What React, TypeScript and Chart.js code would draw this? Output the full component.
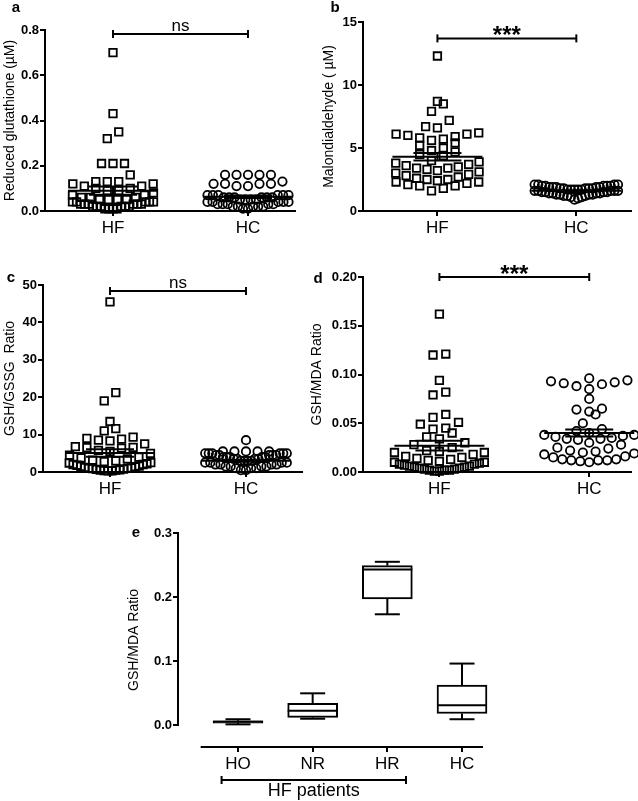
import React, { useEffect, useRef } from "react";
import { Chart, registerables } from "chart.js";
Chart.register(...registerables);

const FONT = "'Liberation Sans', Arial, Helvetica, sans-serif";

// ---------- shared ----------
const groupLabels = ["HF", "HC"];

// ---------- panel a : Reduced glutathione ----------
const gshHF = [0.70, 0.43, 0.35, 0.32, 0.21, 0.21, 0.21, 0.16, 0.13, 0.13, 0.13, 0.12, 0.12, 0.11, 0.11, 0.10, 0.10, 0.09, 0.09, 0.08, 0.07, 0.07, 0.06, 0.06, 0.06, 0.05, 0.05, 0.05, 0.05, 0.04, 0.04, 0.04, 0.04, 0.04, 0.03, 0.03, 0.03, 0.03, 0.03, 0.03, 0.02, 0.02, 0.02, 0.02, 0.02, 0.02, 0.01, 0.01, 0.01, 0.01];
const gshHC = [0.16, 0.16, 0.16, 0.16, 0.16, 0.13, 0.12, 0.12, 0.12, 0.12, 0.11, 0.11, 0.07, 0.07, 0.07, 0.07, 0.07, 0.07, 0.06, 0.06, 0.06, 0.06, 0.06, 0.06, 0.05, 0.05, 0.05, 0.05, 0.04, 0.04, 0.04, 0.04, 0.04, 0.03, 0.03, 0.03, 0.03, 0.03, 0.02, 0.02, 0.02, 0.02, 0.02, 0.01, 0.01];
const gshMean = [0.09, 0.063];
const gshSem = [0.018, 0.006];
const gshTicks = [0, 0.2, 0.4, 0.6, 0.8];

// ---------- panel b : Malondialdehyde ----------
const mdaHF = [12.3, 8.7, 8.5, 7.9, 7.2, 6.7, 6.6, 6.2, 6.1, 6.1, 6.0, 5.9, 5.8, 5.7, 5.6, 5.4, 5.2, 5.0, 4.8, 4.7, 4.5, 4.4, 4.0, 3.9, 3.8, 3.7, 3.6, 3.5, 3.4, 3.4, 3.3, 3.2, 3.1, 3.0, 2.9, 2.8, 2.7, 2.6, 2.5, 2.5, 2.4, 2.3, 2.3, 2.2, 2.1, 2.0, 2.0, 1.8, 1.6];
const mdaHC = [2.1, 2.1, 2.1, 2.1, 2.0, 2.0, 2.0, 2.0, 2.0, 1.9, 1.9, 1.9, 1.9, 1.9, 1.8, 1.8, 1.8, 1.8, 1.8, 1.7, 1.7, 1.7, 1.7, 1.7, 1.6, 1.6, 1.6, 1.6, 1.6, 1.5, 1.5, 1.5, 1.5, 1.4, 1.4, 1.4, 1.4, 1.3, 1.3, 1.3, 1.3, 1.2, 1.2, 1.2, 1.1, 1.1, 1.0, 0.9];
const mdaMean = [4.3, 1.6];
const mdaSem = [0.3, 0.05];
const mdaTicks = [0, 5, 10, 15];

// ---------- panel c : GSH/GSSG ratio ----------
const ratioHF = [45.5, 21.2, 19.0, 13.5, 11.6, 11.0, 9.3, 9.0, 8.8, 8.5, 8.3, 7.5, 6.8, 6.6, 6.5, 6.4, 5.8, 5.5, 5.0, 4.5, 4.0, 3.8, 3.5, 3.2, 3.0, 2.8, 2.5, 2.4, 2.2, 2.0, 2.0, 1.8, 1.6, 1.5, 1.4, 1.2, 1.1, 1.0, 1.0, 0.9, 0.8, 0.7, 0.6, 0.5, 0.5, 0.4, 0.3, 0.3];
const ratioHC = [8.5, 5.5, 5.5, 5.5, 5.5, 5.5, 5.0, 5.0, 5.0, 5.0, 5.0, 5.0, 4.5, 4.5, 4.5, 4.5, 4.5, 4.0, 4.0, 4.0, 4.0, 4.0, 3.5, 3.5, 3.5, 3.5, 3.0, 3.0, 3.0, 3.0, 2.5, 2.5, 2.5, 2.5, 2.0, 2.0, 2.0, 2.0, 1.5, 1.5, 1.5, 1.5, 1.0, 1.0, 1.0, 0.5, 0.5];
const ratioMean = [5.1, 3.0];
const ratioSem = [1.0, 0.25];
const ratioTicks = [0, 10, 20, 30, 40, 50];

// ---------- panel d : GSH/MDA ratio ----------
const gmHF = [0.162, 0.121, 0.120, 0.094, 0.082, 0.079, 0.059, 0.056, 0.051, 0.049, 0.045, 0.044, 0.040, 0.036, 0.034, 0.030, 0.028, 0.025, 0.022, 0.021, 0.020, 0.020, 0.018, 0.016, 0.015, 0.014, 0.013, 0.012, 0.011, 0.010, 0.010, 0.009, 0.008, 0.008, 0.007, 0.006, 0.006, 0.005, 0.005, 0.004, 0.004, 0.003, 0.003, 0.002, 0.002, 0.002, 0.001, 0.001];
const gmHC = [0.096, 0.094, 0.093, 0.092, 0.091, 0.090, 0.088, 0.085, 0.075, 0.065, 0.064, 0.062, 0.059, 0.050, 0.044, 0.042, 0.040, 0.038, 0.038, 0.037, 0.036, 0.035, 0.034, 0.034, 0.033, 0.030, 0.028, 0.025, 0.024, 0.022, 0.021, 0.020, 0.019, 0.018, 0.016, 0.015, 0.013, 0.013, 0.012, 0.012, 0.012, 0.011, 0.010];
const gmMean = [0.027, 0.040];
const gmSem = [0.005, 0.0035];
const gmTicks = [0, 0.05, 0.1, 0.15, 0.2];

// ---------- significance ----------
const sigLabels = ["ns", "***", "ns", "***"];
const sigLevels = [0.782, 13.7, 48.4, 0.2];

// ---------- panel e : box plot ----------
const boxCats = ["HO", "NR", "HR", "HC"];
const boxMin = [0.001, 0.0098, 0.173, 0.009];
const boxQ1 = [0.003, 0.012, 0.197, 0.018];
const boxMedian = [0.005, 0.0224, 0.243, 0.031];
const boxQ3 = [0.0065, 0.034, 0.249, 0.0625];
const boxMax = [0.009, 0.0495, 0.255, 0.096];
const boxTicks = [0, 0.1, 0.2, 0.3];
const spanLabel = "HF patients";
const spanRange = [-0.22, 2.25];

// ---------- style constants ----------
const MARKER_PX = 9;
const STEP = 0.085;
const MAX_HALF = 0.3;
const MEAN_HALF = 45;
const SEM_HALF = 24;
const TITLE_OFFSET = 9.4;

type ScatterSpec = {
  letter: string; letterX: number; letterY: number;
  left: number; top: number; width: number; height: number;
  axisL: number; axisR: number; axisT: number; axisB: number;
  hfX: number; hcX: number; titleX: number;
  title: string; hf: number[]; hc: number[]; mean: number[]; sem: number[];
  ticks: number[]; decimals: number; sig: string; sigLevel: number;
};

function swarm(values: number[], center: number, bin: number, step: number, maxHalf: number) {
  const sorted = [...values].sort((a, b) => a - b);
  const pts: { x: number; y: number }[] = [];
  let i = 0;
  while (i < sorted.length) {
    const base = sorted[i];
    const row: number[] = [];
    while (i < sorted.length && sorted[i] < base + bin) row.push(sorted[i++]);
    const n = row.length;
    const s = n > 1 ? Math.min(step, (2 * maxHalf) / (n - 1)) : 0;
    const slots = Array.from({ length: n }, (_, k) => (k - (n - 1) / 2) * s);
    slots.sort((p, q) => Math.abs(p) - Math.abs(q) || p - q);
    row.forEach((v, k) => pts.push({ x: center + slots[k], y: v }));
  }
  return pts;
}

function seg(ctx: CanvasRenderingContext2D, x1: number, y1: number, x2: number, y2: number) {
  ctx.beginPath();
  ctx.moveTo(x1, y1);
  ctx.lineTo(x2, y2);
  ctx.stroke();
}

function yAxisCommon(ticks: number[], decimals: number, width: number, title: string) {
  return {
    type: "linear",
    afterBuildTicks: (sc: any) => { sc.ticks = ticks.map((v) => ({ value: v })); },
    afterFit: (sc: any) => { sc.width = width; },
    ticks: {
      color: "#000",
      font: { family: FONT, size: 13, weight: "bold" },
      padding: 1,
      callback: (v: any) => Number(v).toFixed(decimals),
    },
    grid: { display: true, drawOnChartArea: false, drawTicks: true, tickLength: 5, color: "#000", lineWidth: 2 },
    border: { display: true, color: "#000", width: 2 },
    title: { display: true, text: title, color: "#000", font: { family: FONT, size: 14 }, padding: { top: 1, bottom: 0 } },
  };
}

function scatterConfig(s: ScatterSpec): any {
  const ppu = s.hcX - s.hfX;
  const xMin = 1 - (s.hfX - s.axisL) / ppu;
  const xMax = 2 + (s.axisR - s.hcX) / ppu;
  const yMax = s.ticks[s.ticks.length - 1];
  const bin = (MARKER_PX * yMax) / (s.axisB - s.axisT);
  const padLeft = s.titleX - TITLE_OFFSET - s.left;
  const yWidth = s.axisL - s.left - padLeft;
  const padTop = s.axisT - s.top;
  const padRight = s.left + s.width - s.axisR;
  const xHeight = s.top + s.height - s.axisB;

  const overlay = {
    id: "overlay",
    afterDatasetsDraw(chart: any) {
      const { ctx, scales } = chart;
      const x = scales.x, y = scales.y;
      ctx.save();
      ctx.strokeStyle = "#000";
      ctx.fillStyle = "#000";
      ctx.lineWidth = 2;
      [1, 2].forEach((g, i) => {
        const cx = x.getPixelForValue(g);
        const my = y.getPixelForValue(s.mean[i]);
        const hi = y.getPixelForValue(s.mean[i] + s.sem[i]);
        const lo = y.getPixelForValue(s.mean[i] - s.sem[i]);
        seg(ctx, cx - MEAN_HALF, my, cx + MEAN_HALF, my);
        seg(ctx, cx, lo, cx, hi);
        seg(ctx, cx - SEM_HALF, hi, cx + SEM_HALF, hi);
        seg(ctx, cx - SEM_HALF, lo, cx + SEM_HALF, lo);
      });
      const by = y.getPixelForValue(s.sigLevel);
      const x1 = x.getPixelForValue(1), x2 = x.getPixelForValue(2);
      seg(ctx, x1, by, x2, by);
      seg(ctx, x1, by - 4, x1, by + 4);
      seg(ctx, x2, by - 4, x2, by + 4);
      ctx.textAlign = "center";
      ctx.textBaseline = "alphabetic";
      if (s.sig === "ns") {
        ctx.font = `17px ${FONT}`;
        ctx.fillText(s.sig, (x1 + x2) / 2, by - 3);
      } else {
        ctx.font = `bold 24px ${FONT}`;
        ctx.fillText(s.sig, (x1 + x2) / 2, by + 4.6);
      }
      ctx.font = `bold 15px ${FONT}`;
      ctx.fillText(s.letter, s.letterX - s.left, s.letterY - s.top);
      ctx.restore();
    },
  };

  return {
    type: "scatter",
    data: {
      datasets: [
        {
          label: groupLabels[0],
          data: swarm(s.hf, 1, bin, STEP, MAX_HALF),
          pointStyle: "rect",
          pointRadius: 5.3,
          borderWidth: 1.8,
          borderColor: "#000",
          backgroundColor: "rgba(0,0,0,0)",
          clip: false,
        },
        {
          label: groupLabels[1],
          data: swarm(s.hc, 2, bin, STEP, MAX_HALF),
          pointStyle: "circle",
          pointRadius: 4.2,
          borderWidth: 1.8,
          borderColor: "#000",
          backgroundColor: "rgba(0,0,0,0)",
          clip: false,
        },
      ],
    },
    options: {
      responsive: false,
      animation: false,
      events: [],
      layout: { padding: { top: padTop, right: padRight, left: padLeft, bottom: 0 } },
      plugins: { legend: { display: false }, tooltip: { enabled: false } },
      scales: {
        x: {
          type: "linear",
          min: xMin,
          max: xMax,
          afterBuildTicks: (sc: any) => { sc.ticks = [1, 2].map((v) => ({ value: v })); },
          afterFit: (sc: any) => { sc.height = xHeight; },
          ticks: {
            color: "#000",
            font: { family: FONT, size: 17 },
            padding: 2,
            maxRotation: 0,
            autoSkip: false,
            callback: (v: any) => groupLabels[Math.round(Number(v)) - 1],
          },
          grid: { display: true, drawOnChartArea: false, drawTicks: true, tickLength: 5, color: "#000", lineWidth: 2 },
          border: { display: true, color: "#000", width: 2 },
        },
        y: { ...yAxisCommon(s.ticks, s.decimals, yWidth, s.title), min: 0, max: yMax },
      },
    },
    plugins: [overlay],
  };
}

const E = {
  left: 0, top: 490, width: 638, height: 311,
  axisL: 178, axisR: 483, axisT: 533, zeroY: 725, axisB: 747,
  firstX: 238, lastX: 462, titleX: 134, letterX: 136, letterY: 537,
};

function boxConfig(): any {
  const yMax = boxTicks[boxTicks.length - 1];
  const yMin = -((E.axisB - E.zeroY) * yMax) / (E.zeroY - E.axisT);
  const ppu = (E.lastX - E.firstX) / (boxCats.length - 1);
  const xMin = -(E.firstX - E.axisL) / ppu;
  const xMax = boxCats.length - 1 + (E.axisR - E.lastX) / ppu;
  const padLeft = E.titleX - TITLE_OFFSET - E.left;
  const yWidth = E.axisL - E.left - padLeft;
  const BOX_W = 50;
  const CAP_HALF = 12.5;

  const whiskers = {
    id: "whiskers",
    beforeDatasetsDraw(chart: any) {
      const { ctx, scales } = chart;
      const x = scales.x, y = scales.y;
      ctx.save();
      ctx.strokeStyle = "#000";
      ctx.lineWidth = 2;
      boxCats.forEach((_, i) => {
        const cx = x.getPixelForValue(i);
        const yMinP = y.getPixelForValue(boxMin[i]);
        const yMaxP = y.getPixelForValue(boxMax[i]);
        seg(ctx, cx, yMinP, cx, y.getPixelForValue(boxQ1[i]));
        seg(ctx, cx, y.getPixelForValue(boxQ3[i]), cx, yMaxP);
        seg(ctx, cx - CAP_HALF, yMinP, cx + CAP_HALF, yMinP);
        seg(ctx, cx - CAP_HALF, yMaxP, cx + CAP_HALF, yMaxP);
      });
      ctx.restore();
    },
    afterDatasetsDraw(chart: any) {
      const { ctx, scales, chartArea } = chart;
      const x = scales.x, y = scales.y;
      ctx.save();
      ctx.strokeStyle = "#000";
      ctx.fillStyle = "#000";
      ctx.lineWidth = 2;
      boxCats.forEach((_, i) => {
        const cx = x.getPixelForValue(i);
        const my = y.getPixelForValue(boxMedian[i]);
        seg(ctx, cx - BOX_W / 2, my, cx + BOX_W / 2, my);
      });
      // detached axes
      const ax = Math.round(chartArea.left);
      seg(ctx, ax, y.getPixelForValue(yMax) - 1, ax, y.getPixelForValue(0) + 1);
      const bY = Math.round(chartArea.bottom);
      seg(ctx, x.getPixelForValue(-0.5), bY, chartArea.right, bY);
      // HF patients bracket
      const sy = bY + 33;
      const sx1 = x.getPixelForValue(spanRange[0]);
      const sx2 = x.getPixelForValue(spanRange[1]);
      seg(ctx, sx1, sy, sx2, sy);
      seg(ctx, sx1, sy - 4, sx1, sy + 4);
      seg(ctx, sx2, sy - 4, sx2, sy + 4);
      ctx.textAlign = "center";
      ctx.textBaseline = "alphabetic";
      ctx.font = `18px ${FONT}`;
      ctx.fillText(spanLabel, (sx1 + sx2) / 2, sy + 16);
      ctx.font = `bold 15px ${FONT}`;
      ctx.fillText("e", E.letterX - E.left, E.letterY - E.top);
      ctx.restore();
    },
  };

  const yAxis: any = yAxisCommon(boxTicks, 1, yWidth, "GSH/MDA Ratio");
  yAxis.border = { display: false };

  return {
    type: "bar",
    data: {
      datasets: [
        {
          label: "GSH/MDA",
          data: boxCats.map((_, i) => ({ x: i, y: [boxQ1[i], boxQ3[i]] })),
          backgroundColor: "#fff",
          borderColor: "#000",
          borderWidth: 2,
          borderSkipped: false,
          barThickness: BOX_W,
          clip: false,
        },
      ],
    },
    options: {
      responsive: false,
      animation: false,
      events: [],
      layout: { padding: { top: E.axisT - E.top, right: E.left + E.width - E.axisR, left: padLeft, bottom: 0 } },
      plugins: { legend: { display: false }, tooltip: { enabled: false } },
      scales: {
        x: {
          type: "linear",
          offset: false,
          min: xMin,
          max: xMax,
          afterBuildTicks: (sc: any) => { sc.ticks = boxCats.map((_, i) => ({ value: i })); },
          afterFit: (sc: any) => { sc.height = E.top + E.height - E.axisB; },
          ticks: {
            color: "#000",
            font: { family: FONT, size: 17 },
            padding: 2,
            maxRotation: 0,
            autoSkip: false,
            callback: (v: any) => boxCats[Math.round(Number(v))],
          },
          grid: { display: true, offset: false, drawOnChartArea: false, drawTicks: true, tickLength: 5, color: "#000", lineWidth: 2 },
          border: { display: false },
        },
        y: { ...yAxis, min: yMin, max: yMax },
      },
    },
    plugins: [whiskers],
  };
}

const panels: ScatterSpec[] = [
  {
    letter: "a", letterX: 16, letterY: 12,
    left: 0, top: 0, width: 318, height: 245,
    axisL: 45, axisR: 295, axisT: 30, axisB: 211, hfX: 113, hcX: 248, titleX: 10,
    title: "Reduced glutathione (µM)", hf: gshHF, hc: gshHC, mean: gshMean, sem: gshSem,
    ticks: gshTicks, decimals: 1, sig: sigLabels[0], sigLevel: sigLevels[0],
  },
  {
    letter: "b", letterX: 335, letterY: 12,
    left: 318, top: 0, width: 320, height: 245,
    axisL: 363, axisR: 633, axisT: 22, axisB: 211, hfX: 438, hcX: 578, titleX: 329,
    title: "Malondialdehyde ( µM)", hf: mdaHF, hc: mdaHC, mean: mdaMean, sem: mdaSem,
    ticks: mdaTicks, decimals: 0, sig: sigLabels[1], sigLevel: sigLevels[1],
  },
  {
    letter: "c", letterX: 11, letterY: 282,
    left: 0, top: 245, width: 318, height: 260,
    axisL: 43, axisR: 302, axisT: 285, axisB: 472, hfX: 110, hcX: 246, titleX: 10,
    title: "GSH/GSSG  Ratio", hf: ratioHF, hc: ratioHC, mean: ratioMean, sem: ratioSem,
    ticks: ratioTicks, decimals: 0, sig: sigLabels[2], sigLevel: sigLevels[2],
  },
  {
    letter: "d", letterX: 318, letterY: 283,
    left: 300, top: 245, width: 338, height: 260,
    axisL: 363, axisR: 633, axisT: 277, axisB: 472, hfX: 440, hcX: 591, titleX: 317,
    title: "GSH/MDA Ratio", hf: gmHF, hc: gmHC, mean: gmMean, sem: gmSem,
    ticks: gmTicks, decimals: 2, sig: sigLabels[3], sigLevel: sigLevels[3],
  },
];

function ChartCanvas(props: { left: number; top: number; width: number; height: number; make: () => any }) {
  const ref = useRef<HTMLCanvasElement>(null);
  useEffect(() => {
    const chart = new Chart(ref.current as HTMLCanvasElement, props.make());
    return () => chart.destroy();
  }, []);
  return (
    <canvas
      ref={ref}
      width={props.width}
      height={props.height}
      style={{ position: "absolute", left: props.left, top: props.top, width: props.width, height: props.height }}
    />
  );
}

export default function App() {
  return (
    <div style={{ position: "absolute", left: 0, top: 0, width: 638, height: 801, background: "#fff", overflow: "hidden" }}>
      {panels.map((p) => (
        <ChartCanvas key={p.letter} left={p.left} top={p.top} width={p.width} height={p.height} make={() => scatterConfig(p)} />
      ))}
      <ChartCanvas left={E.left} top={E.top} width={E.width} height={E.height} make={boxConfig} />
    </div>
  );
}
